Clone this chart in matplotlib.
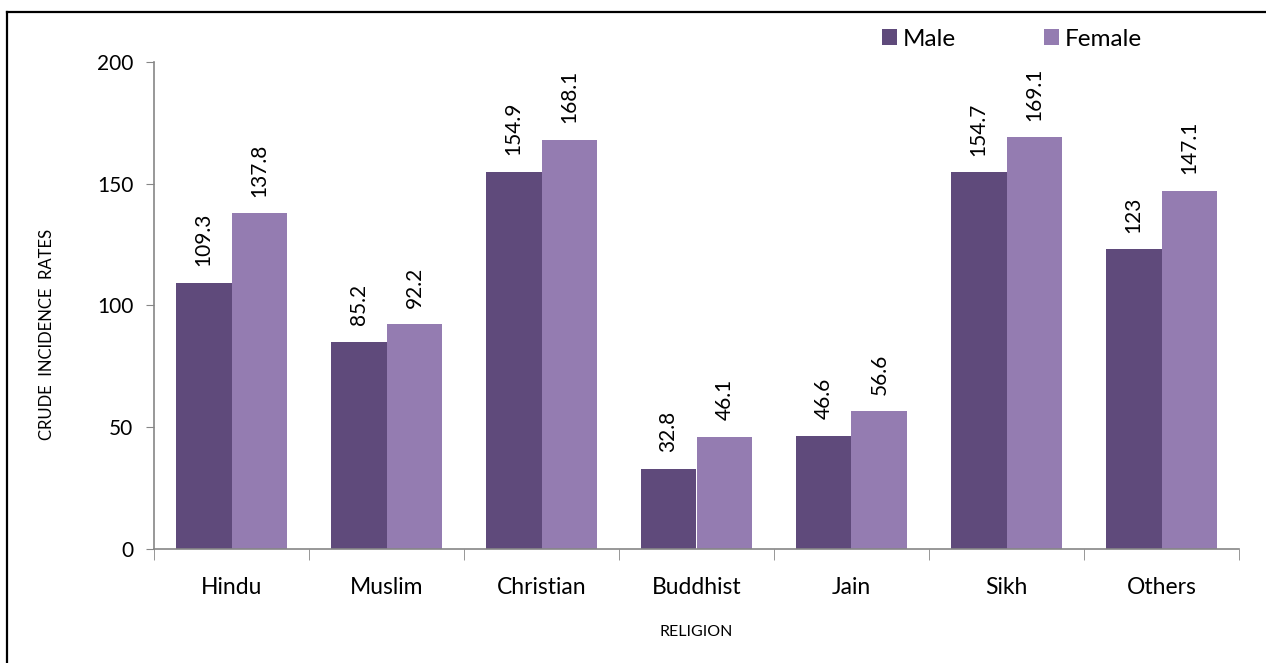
import matplotlib
matplotlib.use("Agg")
import matplotlib.pyplot as plt
import numpy as np
from matplotlib.lines import Line2D

categories = ["Hindu", "Muslim", "Christian", "Buddhist", "Jain", "Sikh", "Others"]
male = [109.3, 85.2, 154.9, 32.8, 46.6, 154.7, 123]
female = [137.8, 92.2, 168.1, 46.1, 56.6, 169.1, 147.1]
male_labels = ["109.3", "85.2", "154.9", "32.8", "46.6", "154.7", "123"]
female_labels = ["137.8", "92.2", "168.1", "46.1", "56.6", "169.1", "147.1"]

plt.rcParams['font.family'] = ['Lato', 'DejaVu Sans']

W, H = 1266, 663
fig = plt.figure(figsize=(W/100, H/100), dpi=100)
ax = fig.add_axes([154/W, 1-549/H, (1239-154)/W, (549-62)/H])

c_male = '#5F4A7B'
c_female = '#947CB1'
x = np.arange(len(categories))
bw = 0.36
b1 = ax.bar(x - bw/2, male, bw, color=c_male, label='Male')
b2 = ax.bar(x + bw/2, female, bw, color=c_female, label='Female')

for bars, labs in ((b1, male_labels), (b2, female_labels)):
    for r, t in zip(bars, labs):
        ax.annotate(t, (r.get_x() + r.get_width()/2, r.get_height()),
                    xytext=(0, 12), textcoords='offset points',
                    rotation=90, ha='center', va='bottom', fontsize=15)

ax.set_xlim(-0.5, len(categories) - 0.5)
ax.set_ylim(0, 200)
ax.set_yticks([0, 50, 100, 150, 200])
ax.tick_params(axis='y', labelsize=15, length=6, color='#868686', pad=9, direction='out')
ax.set_xticks(x)
ax.set_xticklabels(categories)
ax.set_xticks(np.arange(-0.5, len(categories)), minor=True)
ax.tick_params(axis='x', which='major', length=0, labelsize=16.5, pad=20)
ax.tick_params(axis='x', which='minor', length=8, color='#868686', direction='out')
for s in ['top', 'right']:
    ax.spines[s].set_visible(False)
for s in ['left', 'bottom']:
    ax.spines[s].set_color('#868686')
    ax.spines[s].set_linewidth(1.2)

ax.set_ylabel('CRUDE  INCIDENCE  RATES', fontsize=12)
ax.yaxis.set_label_coords(-(154-47)/(1239-154), (549-334)/(549-62))
ax.yaxis.label.set_va('center')
fig.text((154+1239)/2/W, 1-632/H, 'RELIGION', fontsize=11.5, ha='center', va='center')

leg = fig.legend(handles=[b1, b2], labels=['Male', 'Female'], loc='center left',
                 bbox_to_anchor=(882/W, 1-39/H), ncol=2, frameon=False, fontsize=17.5,
                 handlelength=0.62, handleheight=0.62, handletextpad=0.25,
                 columnspacing=3.6, borderpad=0, borderaxespad=0)

# border (top and left visible)
fig.add_artist(Line2D([7.5/W, 1.0], [1-11.5/H, 1-11.5/H], transform=fig.transFigure, color='black', lw=1.6))
fig.add_artist(Line2D([7.5/W, 7.5/W], [0.0, 1-11.5/H], transform=fig.transFigure, color='black', lw=1.6))

fig.savefig('out.png', dpi=100, facecolor='white')
